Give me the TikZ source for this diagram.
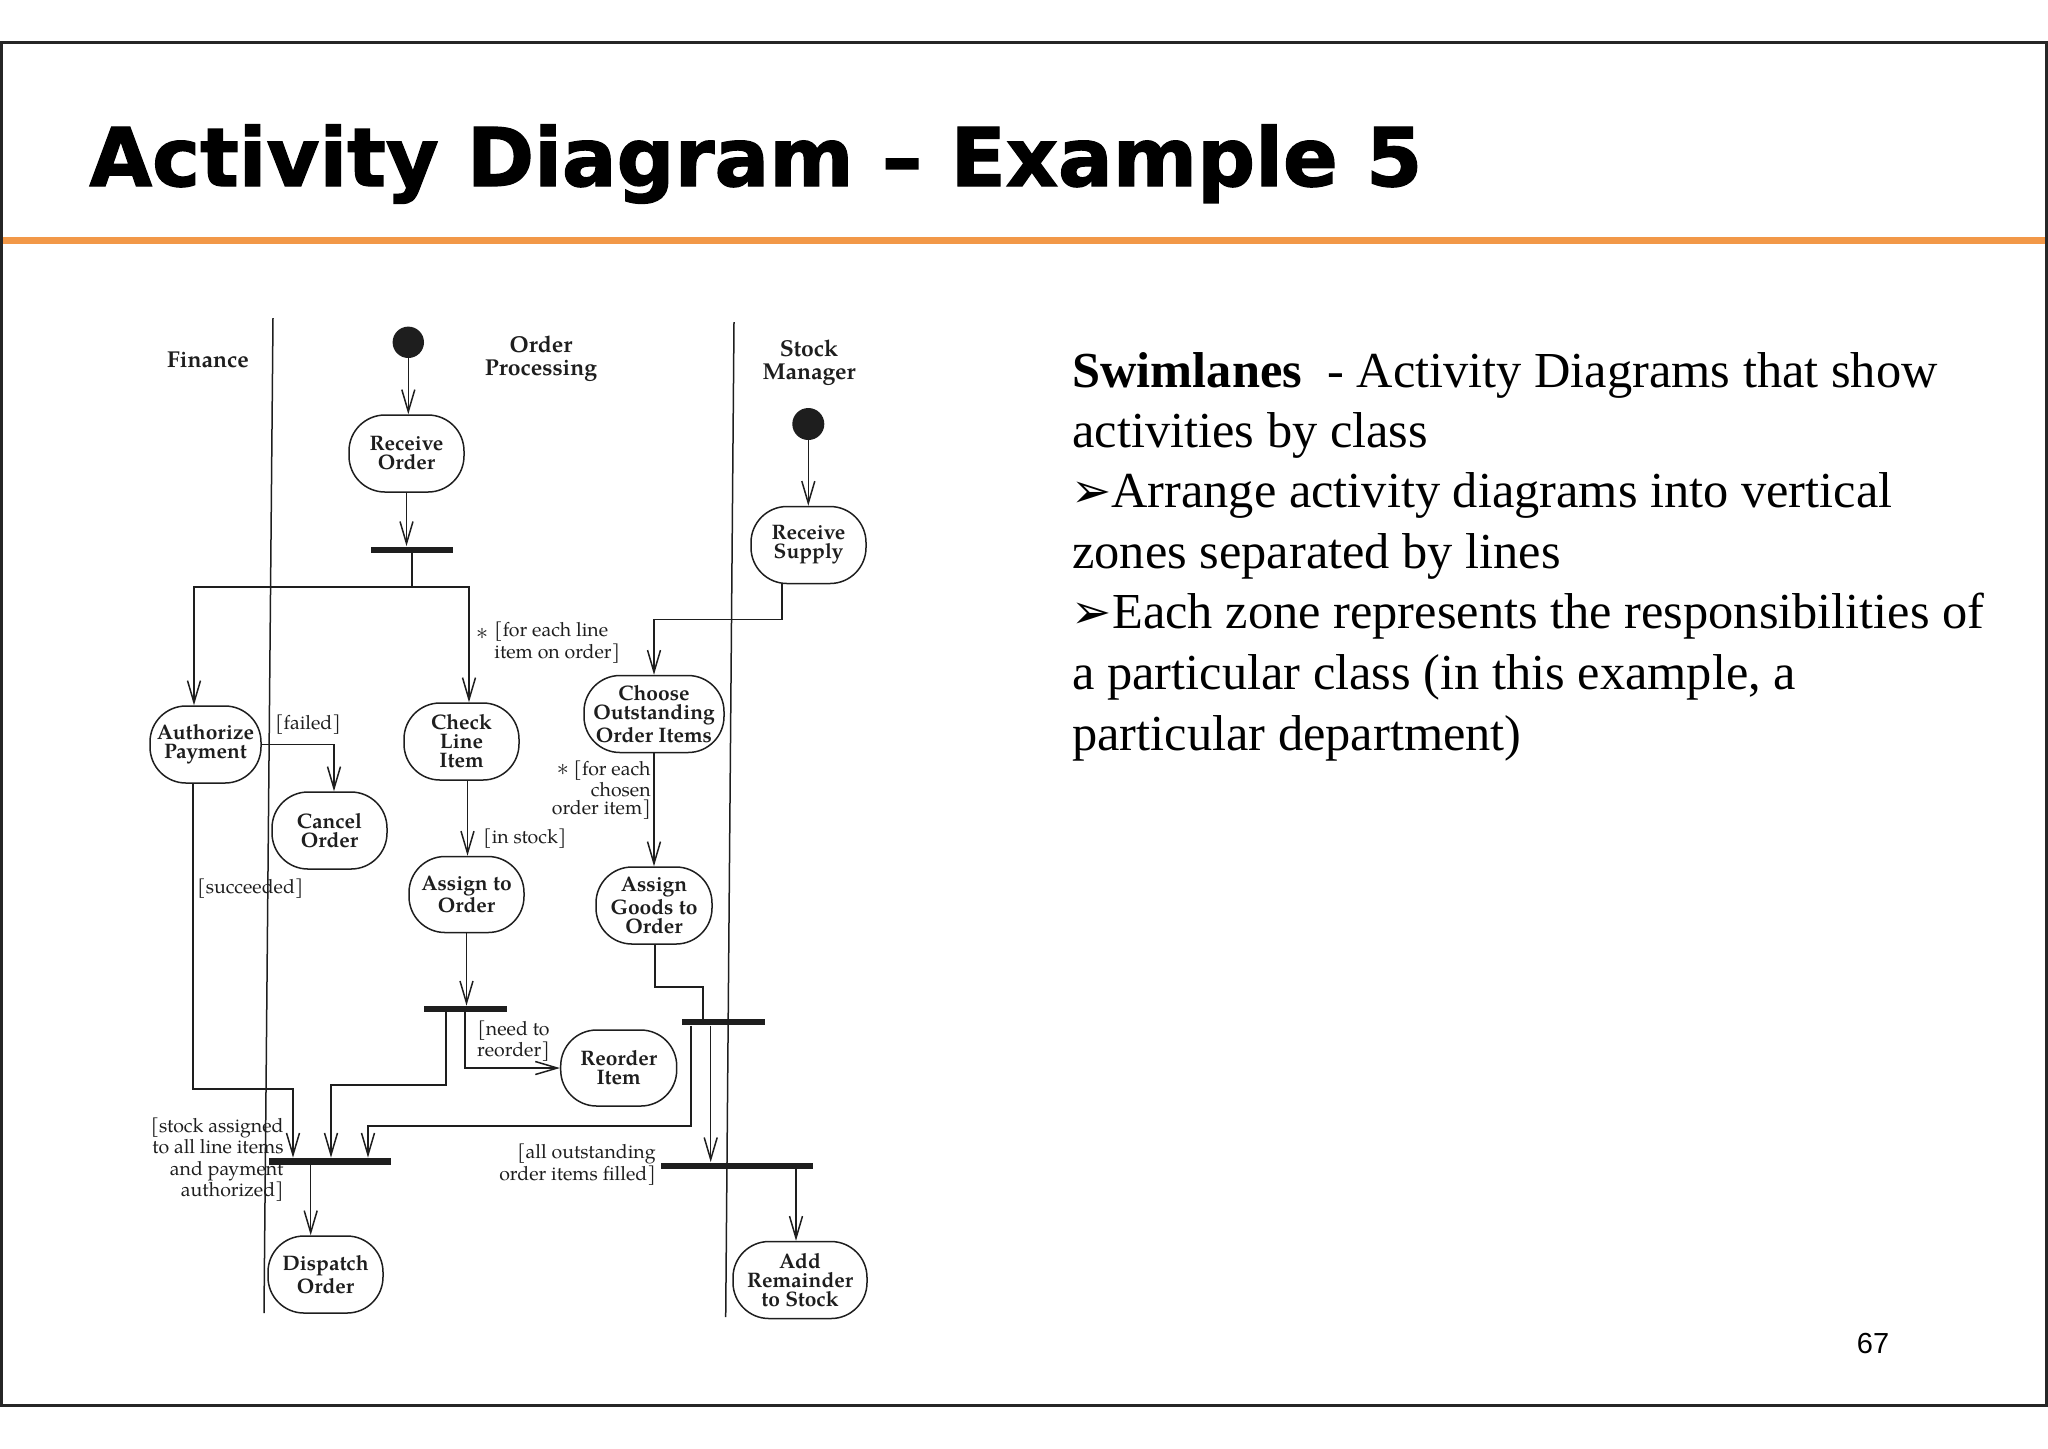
\documentclass[tikz,border=0pt]{standalone}
\usepackage{fontspec}
\setmainfont{Liberation Serif}
\newfontfamily\pal{TeX Gyre Pagella}
\newfontfamily\dejab{DejaVu Sans}
\newfontfamily\titlef{DejaVu Sans}[BoldFeatures={FakeBold=1.6}]
\newfontfamily\arialf{Liberation Sans}
\usetikzlibrary{arrows.meta}
\definecolor{orangeline}{RGB}{242,152,72}
\definecolor{ink}{RGB}{30,30,30}
\begin{document}
\begin{tikzpicture}[x=0.5pt,y=-0.5pt,
 act/.style={draw=ink,line width=0.75pt,rounded corners=18pt,minimum height=38.5pt,inner sep=0pt,align=center,font=\pal\bfseries\fontsize{10.5}{9.5}\selectfont,text=ink},
 bar/.style={fill=ink,draw=none,inner sep=0pt,minimum height=3pt},
 startnode/.style={circle,fill=ink,minimum size=16pt,inner sep=0pt},
 arr/.style={draw=ink,line width=0.75pt,-{Straight Barb[length=11pt,width=6.5pt]}},
 flow/.style={draw=ink,line width=0.75pt},
 lbl/.style={font=\pal\fontsize{9.75}{9.5}\selectfont,text=ink,inner sep=0pt},
 lane/.style={font=\pal\bfseries\fontsize{11.5}{11.5}\selectfont,align=center,text=ink,inner sep=0pt},
 body/.style={anchor=base west,inner sep=0pt,font=\fontsize{25.2}{30}\selectfont},
 bul/.style={anchor=base west,inner sep=0pt,font=\dejab\fontsize{24}{26}\selectfont}]
\useasboundingbox (0,0) rectangle (2048,1448);
% frame
\draw[line width=1.5pt,black!85] (1.5,42) rectangle (2046.5,1405);
\draw[orangeline,line width=3.5pt] (3,240.5) -- (2045,240.5);
% title
\node[anchor=base west,inner sep=0pt,font=\titlef\bfseries\fontsize{40.5}{48}\selectfont] (title) at (89,186) {Activity Diagram – Example 5};
% right text
\node[body] (t1) at (1072,387) {\textbf{Swimlanes}\ \ - Activity Diagrams that show};
\node[body] (t2) at (1072,447) {activities by class};
\node[bul] (b1) at (1071,507) {➢};
\node[body] (t3) at (1111,507) {Arrange activity diagrams into vertical};
\node[body] (t4) at (1072,568) {zones separated by lines};
\node[bul] (b2) at (1071,628) {➢};
\node[body] (t5) at (1112,628) {Each zone represents the responsibilities of};
\node[body] (t6) at (1072,689) {a particular class (in this example, a};
\node[body] (t7) at (1072,750) {particular department)};
\node[font=\arialf\fontsize{14.5}{16}\selectfont,inner sep=0pt] (pg) at (1873,1343) {67};
% swimlanes
\draw[flow] (273,318) -- (264,1313);
\draw[flow] (734,322) -- (725.7,1317);
\node[lane] (lfin) at (208,360) {Finance};
\node[lane] (lop) at (541,358.5) {Order\\Processing};
\node[lane] (lsm) at (809,363) {Stock\\Manager};
% nodes
\node[startnode,minimum size=15.7pt] (start1) at (408.3,342.3) {};
\node[act,minimum width=57.5pt] (recv) at (406.5,453.5) {Receive\\Order};
\node[bar,minimum width=41pt] (fork1) at (412,549.5) {};
\node[act,minimum width=55.5pt] (auth) at (205.5,744.5) {Authorize\\Payment};
\node[act,minimum width=57.5pt] (check) at (461.5,741.5) {Check\\Line\\Item};
\node[act,minimum width=57.5pt] (cancel) at (329.5,830.5) {Cancel\\Order};
\node[startnode] (start2) at (808.3,424) {};
\node[act,minimum width=57.5pt] (supply) at (808.5,545) {Receive\\Supply};
\node[act,minimum width=70pt] (choose) at (654,714) {Choose\\Outstanding\\Order Items};
\node[act,minimum width=57.5pt,minimum height=38pt] (assignO) at (466.5,894.5) {Assign to\\Order};
\node[act,minimum width=58pt] (goods) at (654,905.5) {Assign\\Goods to\\Order};
\node[bar,minimum width=41.5pt] (fork3) at (465.5,1009) {};
\node[act,minimum width=58pt,minimum height=38pt] (reorder) at (618.7,1068) {Reorder\\Item};
\node[bar,minimum width=41.5pt] (fork4) at (723.4,1022.3) {};
\node[bar,minimum width=61pt,minimum height=3.5pt] (fork2) at (330,1161.5) {};
\node[act,minimum width=57.5pt] (dispatch) at (325.5,1274.5) {Dispatch\\Order};
\node[bar,minimum width=76pt] (fork5) at (736.7,1165.5) {};
\node[act,minimum width=67pt] (addrem) at (800,1280) {Add\\Remainder\\to Stock};
% coordinates
\coordinate (c1) at (194,587);
\coordinate (c2) at (469,587);
\coordinate (c3) at (334,745);
\coordinate (a1) at (193,1089);
\coordinate (a2) at (293,1089);
\coordinate (c5) at (467.5,800);
\coordinate (s1) at (782,619.3);
\coordinate (s2) at (654,619.3);
\coordinate (f3a) at (446,1085);
\coordinate (f3b) at (331,1085);
\coordinate (f3c) at (465,1068);
\coordinate (g1) at (655,987);
\coordinate (g2) at (703,987);
\coordinate (f4a) at (691,1126);
\coordinate (f4b) at (368,1126);
\coordinate (f4c) at (710.7,1100);
\coordinate (f2a) at (310.7,1200);
\coordinate (f5a) at (796,1200);
% connectors
\draw[arr] (start1.south) -- (start1.south |- recv.north);
\draw[arr] (recv.south) -- (recv.south |- fork1.north);
\draw[arr] (fork1.south) |- (c1) -- (c1 |- auth.north);
\draw[arr] (fork1.south) |- (c2) -- (c2 |- check.north);
\draw[arr] (auth.east) -| (c3 |- cancel.north);
\draw[arr] (a1 |- auth.south) -- (a1) -- (a2) -- (a2 |- fork2.north);
\draw[arr] (c5 |- check.south) -- (c5 |- assignO.north);
\draw[arr] (start2.south) -- (start2.south |- supply.north);
\draw[arr] (s1 |- supply.south) -- (s1) -- (s2) -- (s2 |- choose.north);
\draw[arr] (choose.south) -- (goods.north);
\draw[arr] (assignO.south) -- (assignO.south |- fork3.north);
\draw[arr] (f3a |- fork3.south) -- (f3a) -- (f3b) -- (f3b |- fork2.north);
\draw[arr] (f3c |- fork3.south) -- (f3c) -- (reorder.west);
\draw[flow] (g1 |- goods.south) -- (g1) -- (g2) -- (g2 |- fork4.north);
\draw[arr] (f4a |- fork4.south) -- (f4a) -- (f4b) -- (f4b |- fork2.north);
\draw[arr] (f4c |- fork4.south) -- (f4c |- fork5.north);
\draw[arr] (f2a |- fork2.south) -- (f2a |- dispatch.north);
\draw[arr] (f5a |- fork5.south) -- (f5a |- addrem.north);
% labels
\node[lbl,font=\pal\fontsize{13}{13}\selectfont] (lstar1) at (482,634) {$\ast$};
\node[lbl,anchor=west,align=left] (lfe) at (494,642.5) {[for each line\\item on order]};
\node[lbl] (lfail) at (308,725) {[failed]};
\node[lbl,anchor=west] (lsucc) at (197,889) {[succeeded]};
\node[lbl,anchor=west] (lstock) at (483,839) {[in stock]};
\node[lbl,anchor=east,align=right,font=\pal\fontsize{9.75}{8.9}\selectfont] (lchosen) at (651,790) {{\large$\ast$} [for each\\chosen\\order item]};
\node[lbl,anchor=east,align=right] (lreord) at (550,1041) {[need to\\reorder]};
\node[lbl,anchor=east,align=right,font=\pal\fontsize{9.75}{10.8}\selectfont] (lstockall) at (284,1159.5) {[stock assigned\\to all line items\\and payment\\authorized]};
\node[lbl,anchor=east,align=right] (lall) at (656,1165) {[all outstanding\\order items filled]};
\end{tikzpicture}
\end{document}
